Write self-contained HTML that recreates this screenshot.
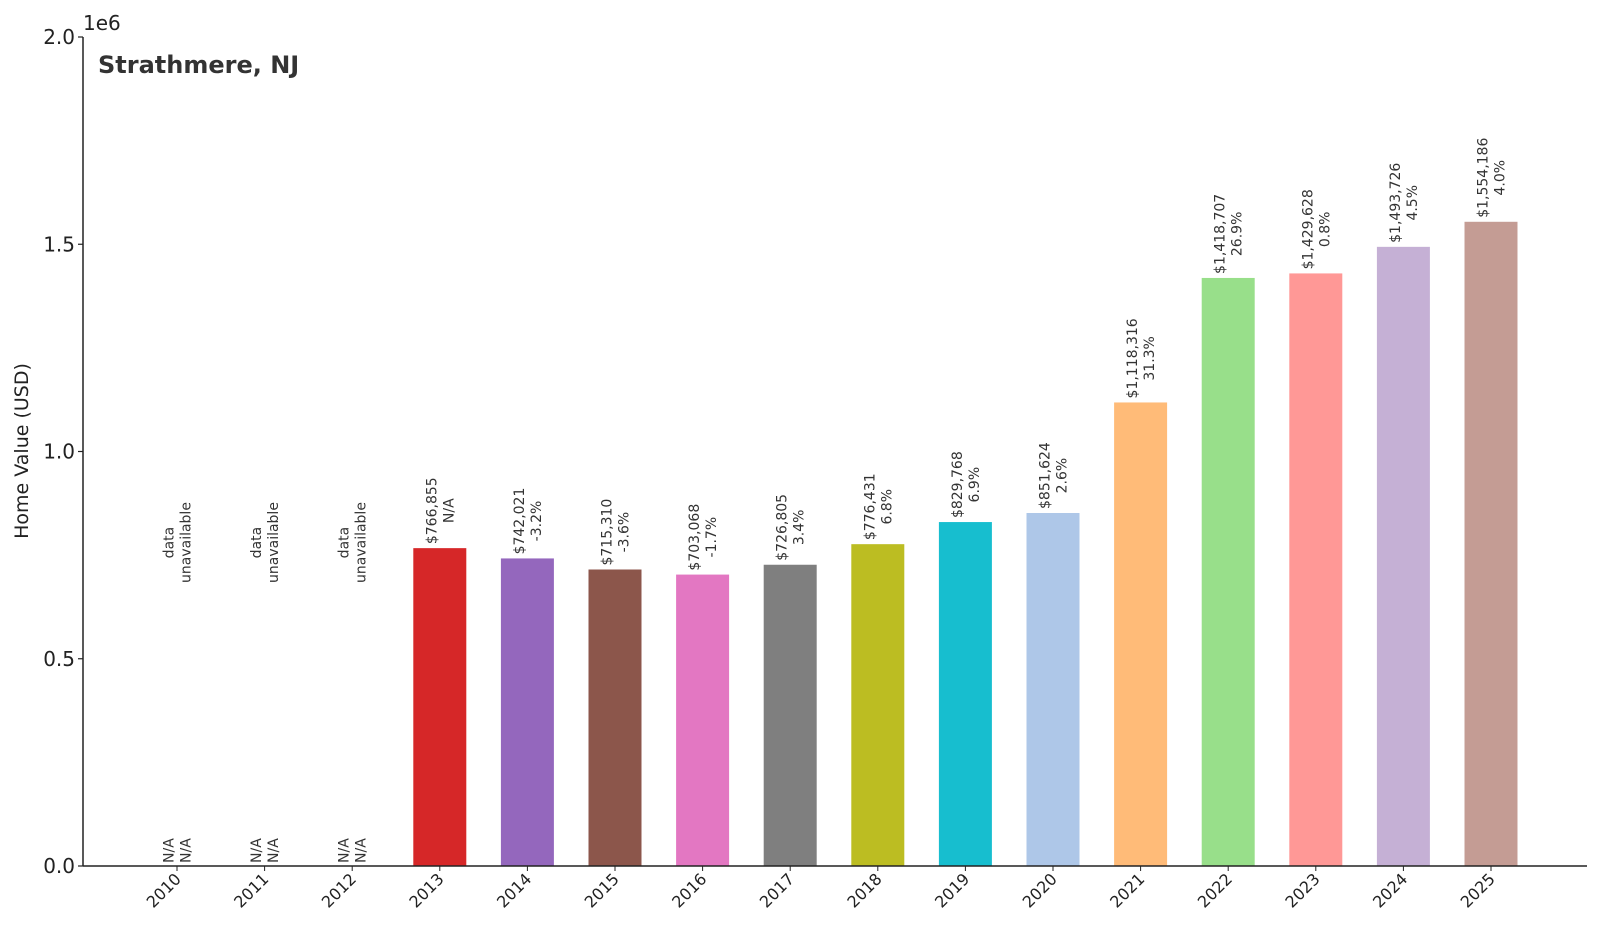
<!DOCTYPE html>
<html><head><meta charset="utf-8"><style>
html,body{margin:0;padding:0;background:#fff;}
svg{display:block;font-family:"DejaVu Sans","Liberation Sans",sans-serif;}
</style></head><body>
<svg id="chart" width="1600" height="928" viewBox="0 0 1600 928" xmlns="http://www.w3.org/2000/svg">
<rect width="1600" height="928" fill="#fff"/>
<g id="bars"></g>
<g id="labels"></g>
<g id="axes"></g>
<text x="98" y="73" font-size="24" font-weight="bold" fill="#333">Strathmere, NJ</text>
<text transform="translate(28,451) rotate(-90)" text-anchor="middle" font-size="19" fill="#222">Home Value (USD)</text>
<text x="83" y="30" font-size="20" fill="#222">1e6</text>
</svg>
<script>
const years = ['2010','2011','2012','2013','2014','2015','2016','2017','2018','2019','2020','2021','2022','2023','2024','2025'];
const values = [null,null,null,766855,742021,715310,703068,726805,776431,829768,851624,1118316,1418707,1429628,1493726,1554186];
const changes = ['N/A','N/A','N/A','N/A','-3.2%','-3.6%','-1.7%','3.4%','6.8%','6.9%','2.6%','31.3%','26.9%','0.8%','4.5%','4.0%'];
const colors = ['#1f77b4','#ff7f0e','#2ca02c','#d62728','#9467bd','#8c564b','#e377c2','#7f7f7f','#bcbd22','#17becf','#aec7e8','#ffbb78','#98df8a','#ff9896','#c5b0d5','#c49c94'];
const yTicks = [0,500000,1000000,1500000,2000000];
const yTickLabels = ['0.0','0.5','1.0','1.5','2.0'];

const NS='http://www.w3.org/2000/svg';
const X0=83, X1=1587, Y0=866, Y1=37, YMAX=2000000;
const step=87.6, first=177, bw=53;
function xPos(i){return first+i*step;}
function yPos(v){return Y0-(v/YMAX)*(Y0-Y1);}
function mk(tag,attrs,parent){const e=document.createElementNS(NS,tag);for(const k in attrs)e.setAttribute(k,attrs[k]);parent.appendChild(e);return e;}
const gb=document.getElementById('bars'), gl=document.getElementById('labels'), ga=document.getElementById('axes');

function rotLabel(cx,bottomY,lines,color){
  const g=mk('g',{transform:`translate(${cx},${bottomY}) rotate(-90)`},gl);
  
  
  const ts=lines.map((s,k)=>{const t=mk('text',{x:0,y:0,'font-size':14,fill:color||'#333','text-anchor':'middle'},g);t.textContent=s;return t;});
  const w=Math.max(...ts.map(t=>t.getComputedTextLength()));
  const lh=17, n=lines.length;
  ts.forEach((t,k)=>{t.setAttribute('x',w/2);t.setAttribute('y',(k-(n-1)/2)*lh+5);});
}

years.forEach((yr,i)=>{
  const cx=xPos(i);
  const v=values[i];
  if(v!==null){
    const r=mk('rect',{x:cx-bw/2,y:yPos(v),width:bw,height:Y0-yPos(v),fill:colors[i]},gb);
    
    
    rotLabel(cx,yPos(v)-4,['$'+v.toLocaleString('en-US'),changes[i]]);
  } else {
    rotLabel(cx,Y0-3,['N/A','N/A']);
    rotLabel(cx,583,['data','unavailable']);
  }
  mk('line',{x1:cx,x2:cx,y1:Y0,y2:Y0+5,stroke:'#222','stroke-width':1},ga);
  const t=mk('text',{transform:`translate(${cx+5},${Y0+14}) rotate(-45)`,'text-anchor':'end','font-size':16,fill:'#222'},ga);
  
  
  t.textContent=yr;
});

yTicks.forEach((v,k)=>{
  const y=yPos(v);
  mk('line',{x1:X0-5,x2:X0,y1:y,y2:y,stroke:'#222','stroke-width':1.2},ga);
  const t=mk('text',{x:X0-8,y:y+7,'text-anchor':'end','font-size':20,fill:'#222'},ga);
  
  
  t.textContent=yTickLabels[k];
});
const ly=mk('line',{x1:X0,x2:X0,y1:Y1,y2:Y0,stroke:'#222','stroke-width':1.5},ga);


const lx=mk('line',{x1:X0,x2:X1,y1:Y0,y2:Y0,stroke:'#222','stroke-width':1.5},ga);


</script>
</body></html>
